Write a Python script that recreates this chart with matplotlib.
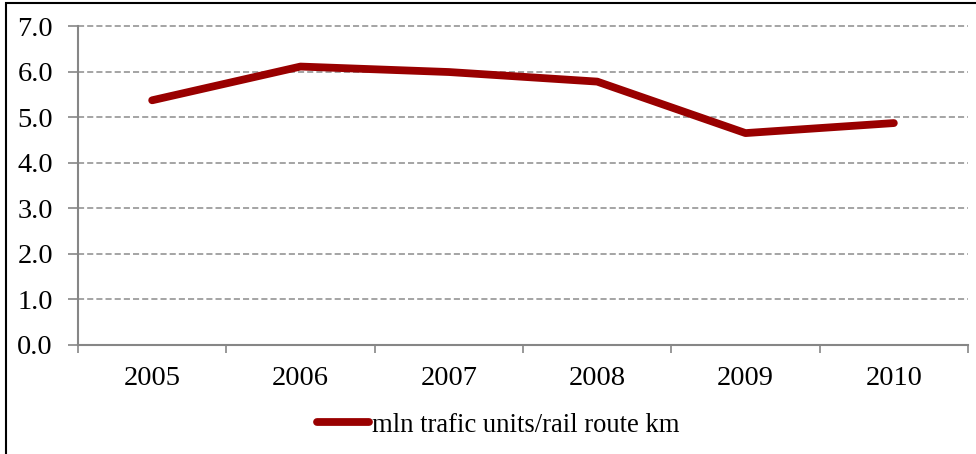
import matplotlib.pyplot as plt
import numpy as np
from matplotlib.patches import Rectangle

years = ["2005", "2006", "2007", "2008", "2009", "2010"]
traffic = [5.37, 6.11, 5.99, 5.78, 4.65, 4.87]
series_label = "mln trafic units/rail route km"

plt.rcParams['font.family'] = ['Liberation Serif', 'DejaVu Serif']

fig = plt.figure(figsize=(9.76, 4.54), dpi=100)
ax = fig.add_axes([78 / 976, 1 - 345 / 454, 890 / 976, 319 / 454])

# outer chart border (runs off the right and bottom edge)
fig.patches.append(Rectangle((6 / 976, -0.05), 1.2, 1 - 3 / 454 + 0.05,
                             transform=fig.transFigure, fill=False,
                             edgecolor='black', linewidth=1.5))

x = np.arange(len(years))
line, = ax.plot(x, traffic, color='#990000', linewidth=5.6,
                solid_capstyle='round', solid_joinstyle='round', label=series_label)

ax.set_xlim(-0.5, len(years) - 0.5)
ax.set_ylim(0, 7)
ax.set_yticks(np.arange(0, 7.1, 1.0))
ax.set_yticklabels([f"{v:.1f}" for v in np.arange(0, 7.1, 1.0)], fontsize=20.5)

ax.set_xticks(np.arange(-0.5, len(years), 1.0))
ax.set_xticklabels([])
ax.set_xticks(x, minor=True)
ax.set_xticklabels(years, minor=True, fontsize=20.5)
ax.tick_params(axis='x', which='minor', length=0, pad=15)
ax.tick_params(axis='x', which='major', length=6, width=1.2, color='#868686')
ax.tick_params(axis='y', length=7, width=1.2, color='#868686', pad=11)

ax.grid(axis='y', linestyle=(0, (4, 2)), color='#8c8c8c', linewidth=1.1)
for gl in ax.get_ygridlines():
    gl.set_clip_on(False)
ax.set_axisbelow(True)
for s in ['top', 'right']:
    ax.spines[s].set_visible(False)
for s in ['left', 'bottom']:
    ax.spines[s].set_color('#868686')
    ax.spines[s].set_linewidth(1.5)

fig.legend(handles=[line], loc='center', bbox_to_anchor=(498 / 976, 1 - 425 / 454),
           frameon=False, fontsize=19.2, handlelength=1.95, handletextpad=0.1)

fig.savefig("out.png", dpi=100)
